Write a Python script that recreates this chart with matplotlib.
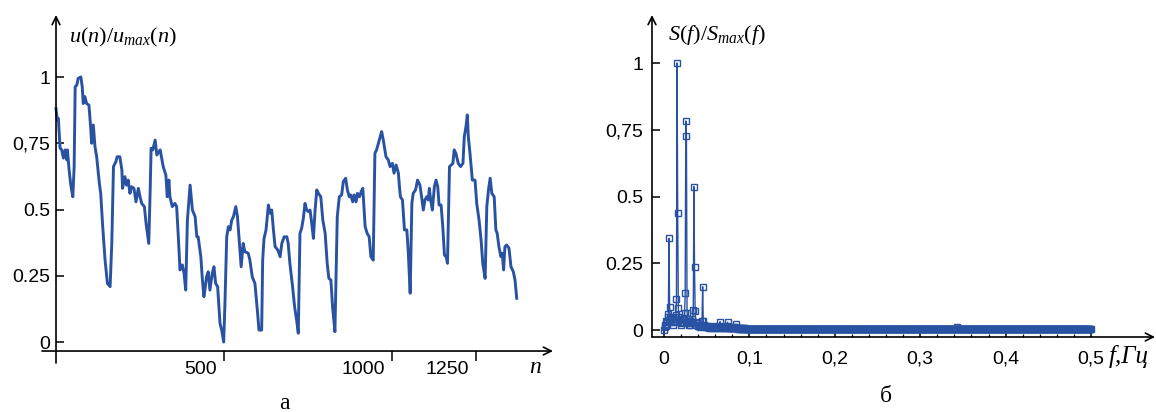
import numpy as np
import matplotlib
matplotlib.use('Agg')
import matplotlib.pyplot as plt
from matplotlib.transforms import ScaledTranslation

# ---------------- data: panel (a) normalized signal ----------------
n_pts = [0, 4, 7, 12, 17, 22, 27, 32, 34, 39, 44, 50, 54, 57, 62, 66, 74, 78, 81, 86,
         91, 98, 103, 106, 111, 116, 121, 129, 133, 139, 146, 153, 161, 166, 171, 178, 182, 190, 196, 198,
         205, 210, 215, 220, 225, 232, 238, 245, 250, 255, 263, 268, 276, 280, 283, 288, 295, 300, 310, 319,
         327, 331, 336, 339, 346, 354, 359, 364, 369, 376, 381, 386, 391, 399, 406, 414, 419, 423, 431, 435,
         440, 443, 448, 453, 458, 465, 470, 475, 481, 488, 493, 499, 503, 508, 513, 518, 523, 528, 535, 540,
         545, 551, 557, 562, 572, 577, 584, 592, 600, 604, 612, 615, 619, 625, 632, 637, 642, 647, 652, 660,
         667, 672, 679, 687, 691, 696, 704, 710, 716, 721, 726, 731, 736, 741, 746, 751, 756, 761, 766, 771,
         776, 781, 788, 794, 801, 807, 812, 818, 823, 830, 837, 843, 850, 855, 862, 867, 873, 877, 883, 887,
         893, 897, 903, 908, 913, 920, 926, 932, 937, 944, 949, 954, 962, 969, 974, 982, 989, 994, 1001, 1006,
         1012, 1019, 1022, 1025, 1031, 1037, 1044, 1048, 1054, 1059, 1063, 1070, 1076, 1083, 1088, 1093, 1098, 1103, 1108, 1111,
         1115, 1120, 1126, 1131, 1136, 1140, 1146, 1151, 1156, 1161, 1165, 1171, 1176, 1181, 1185, 1190, 1197, 1204, 1211, 1215,
         1220, 1224, 1227, 1232, 1239, 1247, 1252, 1259, 1265, 1270, 1277, 1282, 1287, 1292, 1297, 1304, 1309, 1313, 1318, 1324,
         1328, 1332, 1336, 1341, 1348, 1354, 1361, 1366, 1371]
u_vals = [0.88, 0.838, 0.844, 0.732, 0.725, 0.694, 0.725, 0.687, 0.725, 0.649, 0.592, 0.548, 0.662, 0.963, 0.970, 0.995, 1.0, 0.963, 0.90, 0.926,
          0.90, 0.894, 0.812, 0.75, 0.819, 0.737, 0.699, 0.599, 0.561, 0.435, 0.309, 0.221, 0.209, 0.372, 0.662, 0.680, 0.699, 0.699, 0.649, 0.58,
          0.624, 0.592, 0.611, 0.561, 0.586, 0.58, 0.529, 0.58, 0.548, 0.523, 0.511, 0.448, 0.372, 0.561, 0.731, 0.725, 0.762, 0.706, 0.725, 0.662,
          0.630, 0.548, 0.611, 0.548, 0.511, 0.523, 0.511, 0.397, 0.272, 0.291, 0.259, 0.196, 0.46, 0.592, 0.498, 0.473, 0.397, 0.397, 0.322, 0.246,
          0.171, 0.196, 0.246, 0.265, 0.196, 0.259, 0.284, 0.221, 0.209, 0.071, 0.045, 0.0, 0.158, 0.397, 0.435, 0.423, 0.46, 0.473, 0.511, 0.473,
          0.385, 0.284, 0.372, 0.341, 0.335, 0.309, 0.246, 0.221, 0.108, 0.045, 0.045, 0.309, 0.391, 0.423, 0.517, 0.486, 0.498, 0.423, 0.36, 0.347,
          0.322, 0.372, 0.397, 0.397, 0.372, 0.297, 0.209, 0.133, 0.083, 0.033, 0.41, 0.429, 0.467, 0.523, 0.498, 0.492, 0.498, 0.448, 0.391, 0.498,
          0.574, 0.561, 0.548, 0.46, 0.41, 0.297, 0.24, 0.234, 0.133, 0.039, 0.473, 0.548, 0.555, 0.605, 0.618, 0.574, 0.548, 0.555, 0.529, 0.555,
          0.529, 0.561, 0.548, 0.567, 0.58, 0.435, 0.41, 0.397, 0.322, 0.309, 0.712, 0.725, 0.762, 0.794, 0.762, 0.699, 0.687, 0.662, 0.674, 0.637,
          0.668, 0.637, 0.586, 0.548, 0.536, 0.423, 0.423, 0.347, 0.184, 0.523, 0.561, 0.574, 0.611, 0.592, 0.548, 0.498, 0.536, 0.548, 0.536, 0.58,
          0.536, 0.498, 0.586, 0.611, 0.586, 0.517, 0.517, 0.435, 0.328, 0.322, 0.297, 0.662, 0.668, 0.674, 0.725, 0.712, 0.674, 0.662, 0.674, 0.775,
          0.812, 0.857, 0.775, 0.712, 0.611, 0.611, 0.523, 0.46, 0.385, 0.297, 0.24, 0.511, 0.574, 0.618, 0.561, 0.548, 0.423, 0.41, 0.36, 0.322,
          0.335, 0.272, 0.36, 0.366, 0.354, 0.284, 0.265, 0.234, 0.165]

# ---------------- data: panel (b) normalized spectrum ----------------
n_bins = 686
f_max = 0.5
spec_low = [0.0, 0.01, 0.02, 0.015, 0.035, 0.03, 0.05, 0.06, 0.343, 0.087,
            0.045, 0.05, 0.03, 0.04, 0.02, 0.045, 0.03, 0.05, 0.035, 0.055,
            0.116, 1.0, 0.44, 0.083, 0.05, 0.03, 0.04, 0.02, 0.03, 0.025,
            0.04, 0.03, 0.045, 0.062, 0.137, 0.783, 0.728, 0.064, 0.04, 0.03,
            0.02, 0.035, 0.02, 0.03, 0.025, 0.04, 0.03, 0.075, 0.537, 0.235,
            0.07, 0.03, 0.02, 0.025, 0.015, 0.02, 0.015, 0.02, 0.01, 0.015,
            0.02, 0.035, 0.162, 0.035, 0.02, 0.015, 0.01, 0.015]
spec_mid = [0.012, 0.010, 0.015, 0.010, 0.012, 0.008, 0.010, 0.012, 0.008, 0.010, 0.015,
            0.010, 0.008, 0.012, 0.010, 0.008, 0.010, 0.012, 0.008, 0.010, 0.012, 0.015,
            0.031, 0.012, 0.008, 0.010, 0.008, 0.010, 0.012, 0.008, 0.010, 0.008,
            0.010, 0.015, 0.029, 0.012, 0.008, 0.006, 0.008, 0.006, 0.008, 0.006,
            0.008, 0.006, 0.008, 0.010, 0.012, 0.021, 0.008, 0.006, 0.005, 0.007,
            0.005, 0.006, 0.007, 0.005, 0.006, 0.005, 0.007, 0.005, 0.006, 0.005,
            0.006, 0.005, 0.004, 0.005, 0.004, 0.005, 0.004]
tail_level = 0.003
bump_freq = 0.343
bump_val = 0.01

# tick labels
a_yticks = [0, 0.25, 0.5, 0.75, 1]
a_yticklabels = ['0', '0.25', '0.5', '0,75', '1']
a_xticks = [500, 1000, 1250]
a_xticklabels = ['500', '1000', '1250']
b_yticks = [0, 0.25, 0.5, 0.75, 1]
b_yticklabels = ['0', '0.25', '0.5', '0,75', '1']
b_xticks = [0, 0.1, 0.2, 0.3, 0.4, 0.5]
b_xticklabels = ['0', '0,1', '0,2', '0,3', '0,4', '0,5']

# ---------------- style ----------------
BLUE = '#2952a3'
plt.rcParams['font.family'] = ['Liberation Sans', 'DejaVu Sans']
plt.rcParams['mathtext.fontset'] = 'custom'
plt.rcParams['mathtext.it'] = 'Liberation Serif:italic'
plt.rcParams['mathtext.rm'] = 'Liberation Serif'
plt.rcParams['axes.linewidth'] = 1.1
TICK_FS = 14
ARROW = dict(arrowstyle='->', lw=1.2, color='black', shrinkA=0, shrinkB=0, mutation_scale=14)

fig = plt.figure(figsize=(11.56, 4.12), dpi=100)

# ---------------- panel (a) ----------------
ax1 = fig.add_axes([0.03633, 0.11893, 0.44204, 0.84466])
ax1.plot(n_pts, u_vals, color=BLUE, lw=2.1, solid_joinstyle='round')
ax1.set_xlim(-41.7, 1479)
ax1.set_ylim(-0.0792, 1.234)
ax1.spines['left'].set_position(('data', 0))
ax1.spines['bottom'].set_position(('data', -0.034))
for s in ax1.spines.values():
    s.set_visible(False)
ax1.set_yticks(a_yticks)
ax1.set_yticklabels(a_yticklabels, fontsize=TICK_FS)
ax1.set_xticks(a_xticks)
ax1.set_xticklabels(a_xticklabels, fontsize=TICK_FS)
ax1.tick_params(axis='y', direction='in', length=6, width=1.1, pad=4)
ax1.tick_params(axis='x', direction='out', length=7.5, width=1.1, pad=0)
off = ScaledTranslation(-7 / 100, 0, fig.dpi_scale_trans)
for lab in ax1.get_xticklabels():
    lab.set_ha('right')
    lab.set_transform(lab.get_transform() + off)
# axis lines with arrowheads (cross at origin)
ax1.annotate('', xy=(0, 1.0), xycoords=ax1.get_xaxis_transform(),
             xytext=(0, 0.0), textcoords=ax1.get_xaxis_transform(), arrowprops=ARROW)
ax1.annotate('', xy=(1.0, -0.034), xycoords=ax1.get_yaxis_transform(),
             xytext=(0.0, -0.034), textcoords=ax1.get_yaxis_transform(), arrowprops=ARROW)

# ---------------- panel (b) ----------------
freqs = np.linspace(0, f_max, n_bins)
spec = np.full(n_bins, tail_level)
spec[:len(spec_low)] = spec_low
spec[len(spec_low):len(spec_low) + len(spec_mid)] = spec_mid
spec[np.argmin(np.abs(freqs - bump_freq))] = bump_val

ax2 = fig.add_axes([0.5640, 0.18204, 0.43512, 0.78155])
ax2.plot(freqs, spec, color=BLUE, lw=1.0, marker='s', ms=4.4, mfc='none', mec=BLUE, mew=1.0)
ax2.set_xlim(-0.01405, 0.5749)
ax2.set_ylim(-0.0262, 1.1798)
for s in ax2.spines.values():
    s.set_visible(False)
ax2.set_yticks(b_yticks)
ax2.set_yticklabels(b_yticklabels, fontsize=TICK_FS)
ax2.set_xticks(b_xticks)
ax2.set_xticklabels(b_xticklabels, fontsize=TICK_FS)
ax2.set_xticks(np.arange(0, 0.5001, 0.02), minor=True)
ax2.tick_params(axis='y', direction='in', length=6, width=1.1, pad=6.5)
ax2.tick_params(axis='x', which='major', direction='in', length=4, width=1.1, pad=10)
ax2.tick_params(axis='x', which='minor', direction='in', length=2.5, width=0.9)
ax2.annotate('', xy=(0, 1.0), xycoords='axes fraction', xytext=(0, 0.0),
             textcoords='axes fraction', arrowprops=ARROW)
ax2.annotate('', xy=(1.0, 0), xycoords='axes fraction', xytext=(0.0, 0),
             textcoords='axes fraction', arrowprops=ARROW)

# ---------------- texts ----------------
W, H = 1156, 412
fig.text(69 / W, 1 - 42 / H, r'$u(n)/u_{max}(n)$', fontsize=16, va='baseline', ha='left')
fig.text(668 / W, 1 - 40 / H, r'$S(f)/S_{max}(f)$', fontsize=16, va='baseline', ha='left')
fig.text(529 / W, 1 - 373 / H, 'n', fontsize=17, family='Liberation Serif', style='italic',
         va='baseline', ha='left')
fig.text(1109 / W, 1 - 363 / H, 'f,Гц', fontsize=18, family='Liberation Serif', style='italic',
         va='baseline', ha='left')
fig.text(284 / W, 1 - 409 / H, 'а', fontsize=17, family='Liberation Serif',
         va='baseline', ha='center')
fig.text(886 / W, 1 - 402 / H, 'б', fontsize=17, family='Liberation Serif',
         va='baseline', ha='center')

fig.savefig('out.png', dpi=100)
